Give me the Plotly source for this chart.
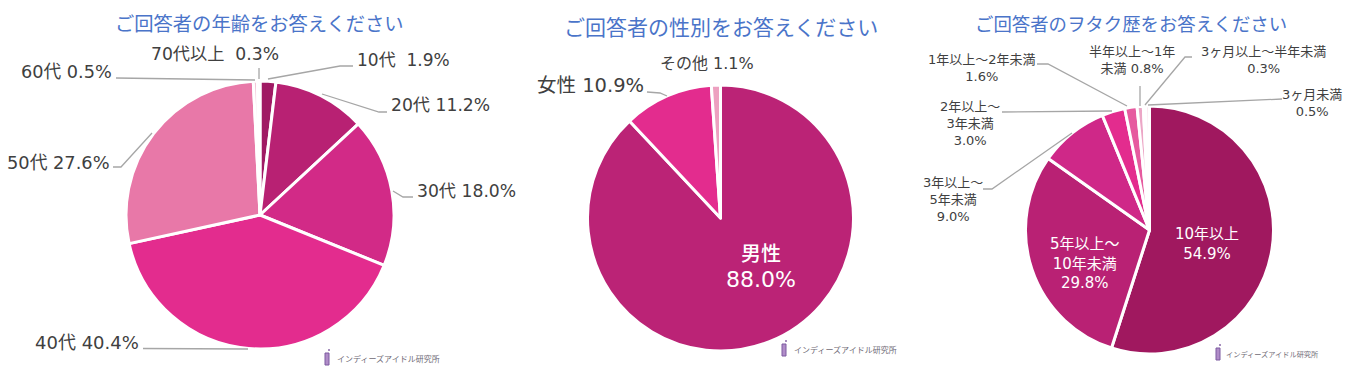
import plotly.graph_objects as go

W, H = 1354, 376
FONT = '"DejaVu Sans","Noto Sans CJK JP",sans-serif'
JP = '"Noto Sans CJK JP",sans-serif'
DARK = "#404040"
BLUE = "#4a74c9"
LINE = "#a6a6a6"

# ---- data ----
age_titles = "ご回答者の年齢をお答えください"
age_labels = ["10代", "20代", "30代", "40代", "50代", "60代", "70代以上"]
age_values = [1.9, 11.2, 18.0, 40.4, 27.6, 0.5, 0.3]
age_colors = ["#a01a64", "#b82173", "#d22a87", "#e32c8e", "#e878a8", "#f3c6d8", "#fde6ef"]

gender_title = "ご回答者の性別をお答えください"
gender_labels = ["男性", "女性", "その他"]
gender_values = [88.0, 10.9, 1.1]
gender_colors = ["#bb2376", "#e32c8e", "#eda0c0"]

career_title = "ご回答者のヲタク歴をお答えください"
career_labels = ["10年以上", "5年以上～<br>10年未満", "3年以上～<br>5年未満", "2年以上～<br>3年未満",
                 "1年以上～2年未満", "半年以上～1年<br>未満", "3ヶ月以上～半年未満", "3ヶ月未満"]
career_values = [54.9, 29.8, 9.0, 3.0, 1.6, 0.8, 0.3, 0.5]
career_colors = ["#a0185f", "#b92174", "#cf2888", "#e32c8e", "#e65a9f", "#eca6c6", "#f6d0e0", "#fbe6ef"]

logo_text = "インディーズアイドル研究所"

# ---- layout helpers ----
px = lambda x: x / W
py = lambda y: 1 - y / H


def pie(values, labels, colors, cx, cy, r):
    return go.Pie(
        values=values, labels=labels, sort=False, direction="clockwise", rotation=0,
        marker=dict(colors=colors, line=dict(color="white", width=3)),
        textinfo="none", hoverinfo="label+percent", showlegend=False,
        domain=dict(x=[px(cx - r), px(cx + r)], y=[py(cy + r), py(cy - r)]),
    )


fig = go.Figure([
    pie(age_values, age_labels, age_colors, 260, 215, 134),
    pie(gender_values, gender_labels, gender_colors, 720.5, 218, 133),
    pie(career_values, career_labels, career_colors, 1149.5, 230, 124),
])

annotations, shapes = [], []


def text(t, x, y, size, color=DARK, family=FONT, weight="normal"):
    annotations.append(dict(text=t, x=px(x), y=py(y), xref="paper", yref="paper", showarrow=False,
                            xanchor="center", yanchor="middle", align="center",
                            font=dict(size=size, color=color, family=family, weight=weight)))


def leader(*pts):
    d = "M" + " L".join(f"{px(a):.5f},{py(b):.5f}" for a, b in pts)
    shapes.append(dict(type="path", path=d, xref="paper", yref="paper",
                       line=dict(color=LINE, width=1.3)))


def logo(ix, y, tx, size):
    shapes.append(dict(type="rect", xref="paper", yref="paper", x0=px(ix - 2), x1=px(ix + 2),
                       y0=py(y + 7), y1=py(y - 5), fillcolor="#b08cc8", line=dict(color="#7d5aa0", width=1)))
    shapes.append(dict(type="circle", xref="paper", yref="paper", x0=px(ix + 1), x1=px(ix + 3),
                       y0=py(y - 7), y1=py(y - 9), fillcolor="#8a6aa8", line=dict(width=0)))
    text(logo_text, tx, y + 0.5, size, "#6f6a75", JP)


def lab(labels, values, i, x, y, size, sep=" ", color=DARK, weight="normal"):
    text(f"{labels[i]}{sep}{values[i]:.1f}%", x, y, size, color, weight=weight)


# titles
text(age_titles, 259, 23, 19.3, BLUE, JP)
text(gender_title, 721, 26, 21, BLUE, JP)
text(career_title, 1131, 23, 18.4, BLUE, JP)

# age
lab(age_labels, age_values, 6, 215, 54, 17.2, "  ")
lab(age_labels, age_values, 0, 403, 60, 17, "  ")
lab(age_labels, age_values, 1, 440, 105, 17.2)
lab(age_labels, age_values, 2, 467, 191, 17.2)
lab(age_labels, age_values, 4, 58, 162, 17.8)
lab(age_labels, age_values, 5, 66, 72, 17.7)
lab(age_labels, age_values, 3, 87, 342, 18)
leader((259, 68), (259, 79))
leader((268, 79), (340, 66), (353, 66))
leader((322, 94), (379, 112), (387, 112))
leader((393, 191), (403, 197), (413, 197))
leader((152, 133), (121, 167), (113, 167))
leader((116, 78), (255, 80))
leader((143, 348.5), (248, 349))
logo(327, 358, 388, 8)

# gender
lab(gender_labels, gender_values, 2, 707, 63, 16)
lab(gender_labels, gender_values, 1, 590, 86, 19.5)
leader((647, 92), (660, 93), (667, 96))
text(gender_labels[0], 761, 252, 20, "white", JP, 500)
text(f"{gender_values[0]:.1f}%", 761, 279, 22, "white")
logo(784, 349, 845, 8)

# career
lab(career_labels, career_values, 4, 982, 68.5, 13, "<br>")
lab(career_labels, career_values, 5, 1132, 60.5, 13)
lab(career_labels, career_values, 6, 1263, 60.5, 13, "<br>")
lab(career_labels, career_values, 7, 1312, 103.5, 13, "<br>")
lab(career_labels, career_values, 3, 970, 124, 13, "<br>")
lab(career_labels, career_values, 2, 953, 199, 13, "<br>")
lab(career_labels, career_values, 0, 1207, 243.5, 15, "<br>", "white")
lab(career_labels, career_values, 1, 1085, 263, 15, "<br>", "white")
leader((1037, 64), (1048, 64), (1127, 106))
leader((1140, 86), (1140, 106))
leader((1192, 57), (1185, 57), (1145, 105))
leader((1282, 99), (1148, 105))
leader((1002, 112), (1112, 111))
leader((983, 189), (992, 189), (1072, 133))
logo(1218, 353, 1272, 7.2)

fig.update_layout(width=W, height=H, margin=dict(l=0, r=0, t=0, b=0, pad=0, autoexpand=False),
                  paper_bgcolor="white", annotations=annotations, shapes=shapes)

fig.write_html("out.html", config=dict(displayModeBar=False),
               post_script="document.body.style.margin='0';document.body.style.overflow='hidden';")
